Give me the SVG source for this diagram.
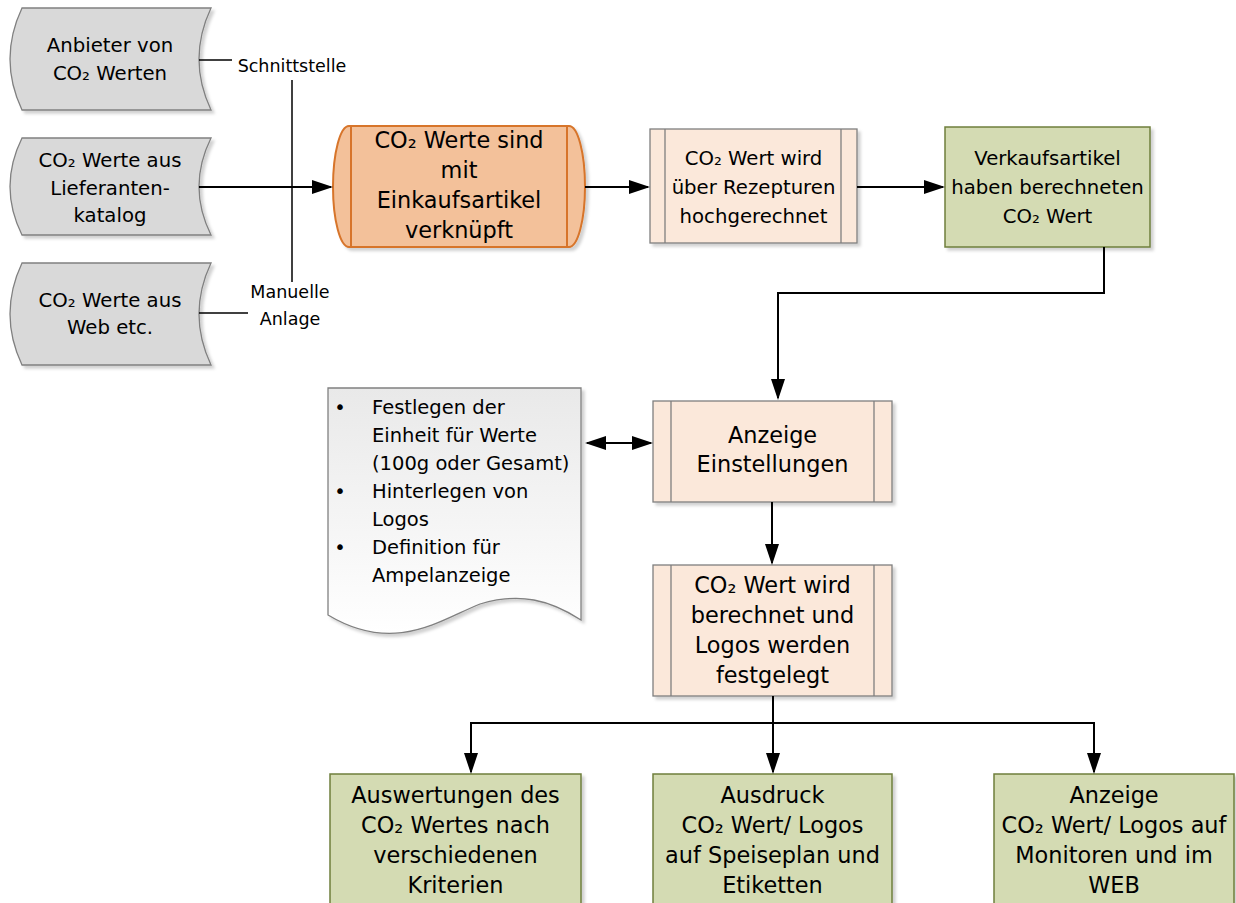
<svg xmlns="http://www.w3.org/2000/svg" width="1236" height="903" viewBox="0 0 1236 903">
  <defs>
    <filter id="shadow" x="-5%" y="-5%" width="115%" height="120%">
      <feDropShadow dx="3" dy="3" stdDeviation="1.5" flood-color="#000" flood-opacity="0.18"/>
    </filter>
    <linearGradient id="docFill" x1="0" y1="0" x2="0" y2="1">
      <stop offset="0" stop-color="#E9E9E9"/>
      <stop offset="1" stop-color="#FFFFFF"/>
    </linearGradient>
    <marker id="arrow" viewBox="0 0 21 14" refX="19" refY="7" markerWidth="21" markerHeight="14" markerUnits="userSpaceOnUse" orient="auto-start-reverse">
      <path d="M0,0 L21,7 L0,14 Z" fill="#000"/>
    </marker>
    <style>
      text { font-family: "DejaVu Sans", "Noto Sans", sans-serif; fill: #000; }
      .t18 { font-size: 19.7px; text-anchor: middle; }
      .t21 { font-size: 22.4px; text-anchor: middle; }
      .lbl { font-size: 17.5px; text-anchor: middle; }
      .doc { font-size: 19.5px; }
      .store { fill: #D9D9D9; stroke: #808080; stroke-width: 1.3; filter: url(#shadow); }
      .proc { fill: #FBE8DA; stroke: #7F7F7F; stroke-width: 1.3; filter: url(#shadow); }
      .bar { stroke: #7F7F7F; stroke-width: 1.3; }
      .green { fill: #D4DBB3; stroke: #6F7F3C; stroke-width: 1.5; filter: url(#shadow); }
      .orange { fill: #F3C19A; stroke: #D7742A; stroke-width: 2; filter: url(#shadow); }
      .obar { stroke: #D7742A; stroke-width: 2; }
      .conn { fill: none; stroke: #000; stroke-width: 2; }
      .thin { fill: none; stroke: #000; stroke-width: 1.5; }
    </style>
  </defs>

  <!-- data sources -->
  <g id="source-anbieter">
    <path class="store" d="M22,8 H211 Q187,59 211,110 H22 Q-2,59 22,8 Z"/>
    <text class="t18" x="110" y="51.5">Anbieter von</text>
    <text class="t18" x="110" y="79.5">CO₂ Werten</text>
  </g>
  <g id="source-katalog">
    <path class="store" d="M22,138 H211 Q187,186.5 211,235 H22 Q-2,186.5 22,138 Z"/>
    <text class="t18" x="110" y="166.5">CO₂ Werte aus</text>
    <text class="t18" x="110" y="194.5">Lieferanten-</text>
    <text class="t18" x="110" y="222">katalog</text>
  </g>
  <g id="source-web">
    <path class="store" d="M22,263 H211 Q187,314 211,365 H22 Q-2,314 22,263 Z"/>
    <text class="t18" x="110" y="306.5">CO₂ Werte aus</text>
    <text class="t18" x="110" y="334">Web etc.</text>
  </g>

  <!-- interface labels -->
  <g id="label-schnittstelle">
    <text class="lbl" x="292" y="72">Schnittstelle</text>
  </g>
  <g id="label-manuell">
    <text class="lbl" x="290" y="298">Manuelle</text>
    <text class="lbl" x="290" y="325">Anlage</text>
  </g>

  <!-- purchase items -->
  <g id="einkaufsartikel">
    <path class="orange" d="M349,126 H569 A16,60.5 0 0 1 569,247 H349 A16,60.5 0 0 1 349,126 Z"/>
    <line class="obar" x1="351" y1="126" x2="351" y2="247"/>
    <line class="obar" x1="567" y1="126" x2="567" y2="247"/>
    <text class="t21" x="459" y="148.3">CO₂ Werte sind</text>
    <text class="t21" x="459" y="178.3">mit</text>
    <text class="t21" x="459" y="208.3">Einkaufsartikel</text>
    <text class="t21" x="459" y="238.3">verknüpft</text>
  </g>

  <g id="rezepturen">
    <rect class="proc" x="650" y="129" width="207" height="114"/>
    <line class="bar" x1="665" y1="129" x2="665" y2="243"/>
    <line class="bar" x1="841" y1="129" x2="841" y2="243"/>
    <text class="t18" x="753.5" y="164.5">CO₂ Wert wird</text>
    <text class="t18" x="753.5" y="193.5">über Rezepturen</text>
    <text class="t18" x="753.5" y="222.5">hochgerechnet</text>
  </g>

  <g id="verkaufsartikel">
    <rect class="green" x="945" y="127" width="205" height="120"/>
    <text class="t18" x="1047.5" y="164.5">Verkaufsartikel</text>
    <text class="t18" x="1047.5" y="193.5">haben berechneten</text>
    <text class="t18" x="1047.5" y="222.5">CO₂ Wert</text>
  </g>

  <!-- settings document -->
  <g id="einstellungen-liste">
    <path d="M328,388 H581 V620 C550,600 520,592 480,604 C440,620 395,655 328,615 Z" fill="url(#docFill)" stroke="#808080" stroke-width="1.3" filter="url(#shadow)"/>
    <text class="doc" x="340" y="413.5" text-anchor="middle">•</text>
    <text class="doc" x="372" y="413.5">Festlegen der</text>
    <text class="doc" x="372" y="441.5">Einheit für Werte</text>
    <text class="doc" x="372" y="469.5">(100g oder Gesamt)</text>
    <text class="doc" x="340" y="497.5" text-anchor="middle">•</text>
    <text class="doc" x="372" y="497.5">Hinterlegen von</text>
    <text class="doc" x="372" y="525.5">Logos</text>
    <text class="doc" x="340" y="553.5" text-anchor="middle">•</text>
    <text class="doc" x="372" y="553.5">Definition für</text>
    <text class="doc" x="372" y="581.5">Ampelanzeige</text>
  </g>

  <g id="anzeige-einstellungen">
    <rect class="proc" x="653" y="401" width="239" height="101"/>
    <line class="bar" x1="671" y1="401" x2="671" y2="502"/>
    <line class="bar" x1="874" y1="401" x2="874" y2="502"/>
    <text class="t21" x="772.5" y="443.3">Anzeige</text>
    <text class="t21" x="772.5" y="471.7">Einstellungen</text>
  </g>

  <g id="berechnung">
    <rect class="proc" x="653" y="565" width="239" height="131"/>
    <line class="bar" x1="671" y1="565" x2="671" y2="696"/>
    <line class="bar" x1="874" y1="565" x2="874" y2="696"/>
    <text class="t21" x="772.5" y="593.3">CO₂ Wert wird</text>
    <text class="t21" x="772.5" y="623.3">berechnet und</text>
    <text class="t21" x="772.5" y="653.3">Logos werden</text>
    <text class="t21" x="772.5" y="682.7">festgelegt</text>
  </g>

  <!-- outputs -->
  <g id="auswertungen">
    <rect class="green" x="330" y="774" width="251" height="140"/>
    <text class="t21" x="455.5" y="803.3">Auswertungen des</text>
    <text class="t21" x="455.5" y="833">CO₂ Wertes nach</text>
    <text class="t21" x="455.5" y="863">verschiedenen</text>
    <text class="t21" x="455.5" y="893">Kriterien</text>
  </g>
  <g id="ausdruck">
    <rect class="green" x="653" y="774" width="239" height="140"/>
    <text class="t21" x="772.5" y="803.3">Ausdruck</text>
    <text class="t21" x="772.5" y="833">CO₂ Wert/ Logos</text>
    <text class="t21" x="772.5" y="863">auf Speiseplan und</text>
    <text class="t21" x="772.5" y="893">Etiketten</text>
  </g>
  <g id="anzeige-monitore">
    <rect class="green" x="994" y="774" width="240" height="140"/>
    <text class="t21" x="1114" y="803.3">Anzeige</text>
    <text class="t21" x="1114" y="833">CO₂ Wert/ Logos auf</text>
    <text class="t21" x="1114" y="863">Monitoren und im</text>
    <text class="t21" x="1114" y="893">WEB</text>
  </g>

  <!-- connectors -->
  <g id="connectors">
    <line class="thin" x1="199" y1="60" x2="232" y2="60"/>
    <line class="thin" x1="199" y1="313" x2="248" y2="313"/>
    <line class="thin" x1="292" y1="80" x2="292" y2="282"/>
    <line class="conn" x1="199" y1="187" x2="331" y2="187" marker-end="url(#arrow)"/>
    <line class="conn" x1="585" y1="187" x2="648" y2="187" marker-end="url(#arrow)"/>
    <line class="conn" x1="857" y1="187" x2="943" y2="187" marker-end="url(#arrow)"/>
    <path class="conn" d="M1104,247 V293 H778 V398" marker-end="url(#arrow)"/>
    <line class="conn" x1="587" y1="443" x2="651" y2="443" marker-start="url(#arrow)" marker-end="url(#arrow)"/>
    <line class="conn" x1="772" y1="502" x2="772" y2="563" marker-end="url(#arrow)"/>
    <line class="conn" x1="773" y1="696" x2="773" y2="772" marker-end="url(#arrow)"/>
    <path class="conn" d="M471,772 V723 H1094 V772" marker-start="url(#arrow)" marker-end="url(#arrow)"/>
  </g>
</svg>
